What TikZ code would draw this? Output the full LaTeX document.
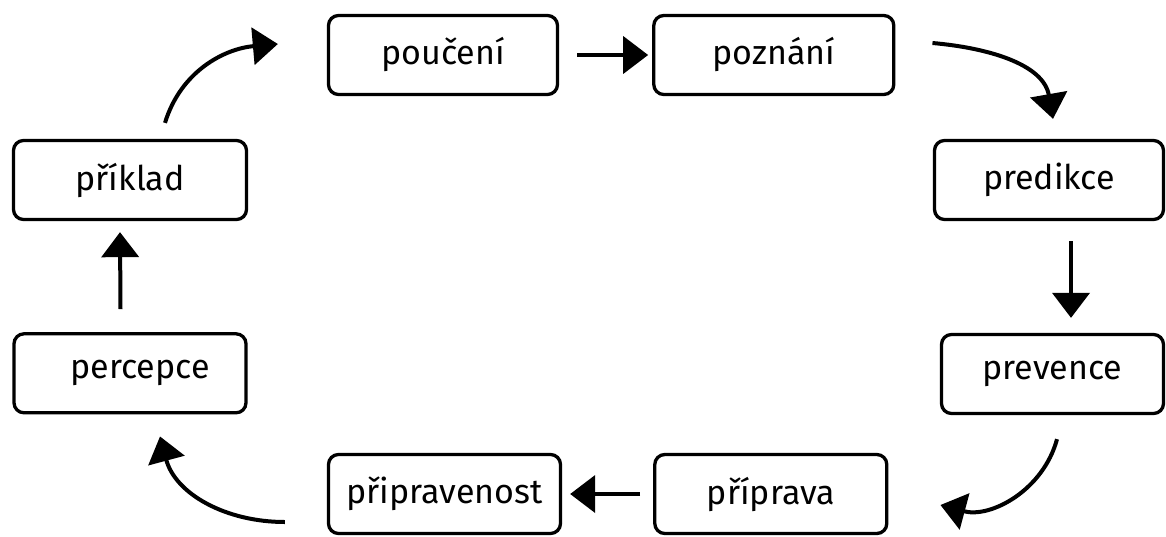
\documentclass[tikz,border=0pt]{standalone}
\usepackage{fontspec}
\setmainfont{Fira Sans}
\usepackage{tikz}
\usetikzlibrary{arrows.meta}
\usetikzlibrary{positioning}

\tikzset{
  stage/.style={draw, line width=3.3pt, rounded corners=10pt, inner sep=0pt,
    minimum width=232pt, minimum height=79pt, font=\fontsize{34}{40}\selectfont},
  flow/.style={line width=4pt, -{Triangle[length=25pt,width=37pt]}},
}

\begin{document}
\begin{tikzpicture}[x=1pt, y=-1pt]

  \useasboundingbox (0,0) rectangle (1166,536);

  % Define nodes
  \node[stage, minimum width=229pt] (pouceni) at (443,55) {poučení};
  \node[stage, minimum width=240pt, right=93pt of pouceni] (poznani) {poznání};
  \node[stage, minimum width=233pt] (priklad) at (130,180) {příklad};
  \node[stage, minimum width=229pt] (predikce) at (1049,180) {predikce};
  \node[stage, below=111pt of priklad] (percepce) {\hspace*{20pt}percepce};
  \node[stage, minimum width=222pt] (prevence) at (1052.5,374) {prevence};
  \node[stage] (pripravenost) at (444.5,494) {připravenost};
  \node[stage, right=91pt of pripravenost] (priprava) {příprava};

  % Connect nodes
  \draw[flow, shorten <=18pt, shorten >=4pt] (pouceni) -- (poznani);
  \draw[flow] ([xshift=37pt,yshift=12pt]poznani.east) to[out=-5,in=100]
    ([xshift=4pt,yshift=20pt]predikce.north);
  \draw[flow] ([xshift=22pt,yshift=-20pt]predikce.south) --
    ([xshift=18.5pt,yshift=15pt]prevence.north);
  \draw[flow] ([xshift=4.5pt,yshift=-24pt]prevence.south) to[out=-105,in=-15]
    ([xshift=52pt,yshift=-11pt]priprava.east);
  \draw[flow, shorten <=13pt, shorten >=8pt] (priprava) -- (pripravenost);
  \draw[flow] ([xshift=-42pt,yshift=-28pt]pripravenost.west) to[out=180,in=-75]
    ([xshift=30pt,yshift=-22pt]percepce.south);
  \draw[flow] ([xshift=-9.5pt,yshift=23pt]percepce.north) --
    ([xshift=-10pt,yshift=-11pt]priklad.south);
  \draw[flow] ([xshift=35pt,yshift=16pt]priklad.north) to[out=73,in=185]
    ([xshift=-49pt,yshift=11pt]pouceni.west);

\end{tikzpicture}
\end{document}
